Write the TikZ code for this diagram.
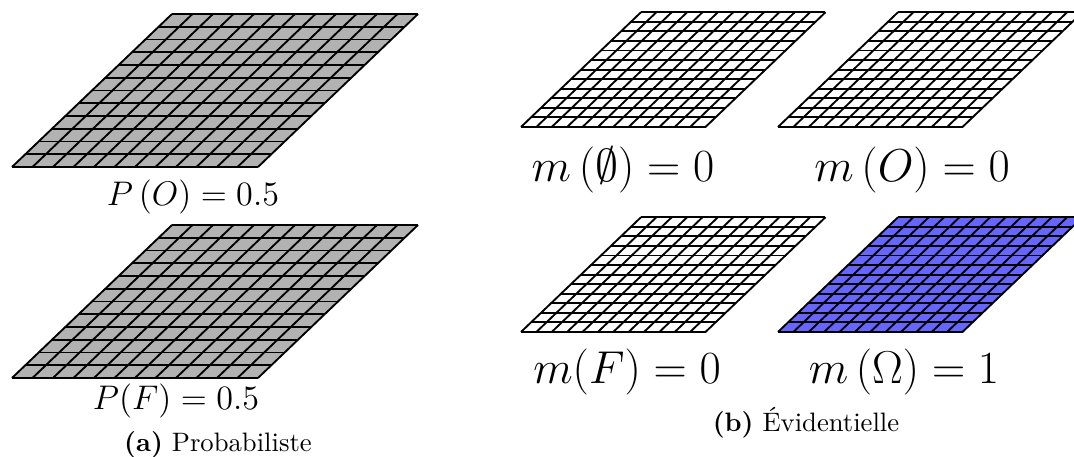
\RequirePackage{fix-cm}
\documentclass[tikz,border=0pt]{standalone}
\usepackage{fontspec}

\tikzset{
  gridline/.style={line width=0.7pt, black},
  proba/.style={inner sep=0pt, font=\fontsize{12.8}{15}\selectfont},
  masse/.style={inner sep=0pt, font=\LARGE},
  legende/.style={inner sep=0pt, anchor=base},
}
% grille 12x12 en perspective : coin bas gauche, echelle, remplissage
\newcommand{\grille}[4]{%
  \begin{scope}[shift={(#1,#2)}, scale=#3]
    \fill[#4] (0,0) -- (246,0) -- (406,153) -- (160,153) -- cycle;
    \foreach \i in {0,...,12} {
      \draw[gridline] (\i*13.333,\i*12.75) -- ++(246,0);
      \draw[gridline] (\i*20.5,0) -- ++(160,153);
    }
  \end{scope}}

\begin{document}
\begin{tikzpicture}[x=0.375pt, y=0.375pt]
  \useasboundingbox (0,0) rectangle (1074,457);

  % (a) probabiliste
  \grille{12}{290}{1}{black!30}
  \grille{12}{79}{1}{black!30}
  \node[proba] (pO) at (193,260) {$P\left(O\right)=0.5$};
  \node[proba] (pF) at (176,56) {$P(F)=0.5$};
  \node[legende] (capa) at (218,5) {\textbf{(a)} Probabiliste};

  % (b) evidentielle
  \grille{521}{330}{0.75}{white}
  \grille{778}{330}{0.75}{white}
  \grille{521}{125}{0.75}{white}
  \grille{778}{125}{0.75}{blue!60}
  \node[masse] (mV) at (623,287) {$m\left(\emptyset\right)=0$};
  \node[masse] (mO) at (912,287) {$m\left(O\right)=0$};
  \node[masse] (mF) at (627,85) {$m(F)=0$};
  \node[masse] (mW) at (904,85) {$m\left(\Omega\right)=1$};
  \node[legende] (capb) at (806,25) {\textbf{(b)} Évidentielle};
\end{tikzpicture}
\end{document}
